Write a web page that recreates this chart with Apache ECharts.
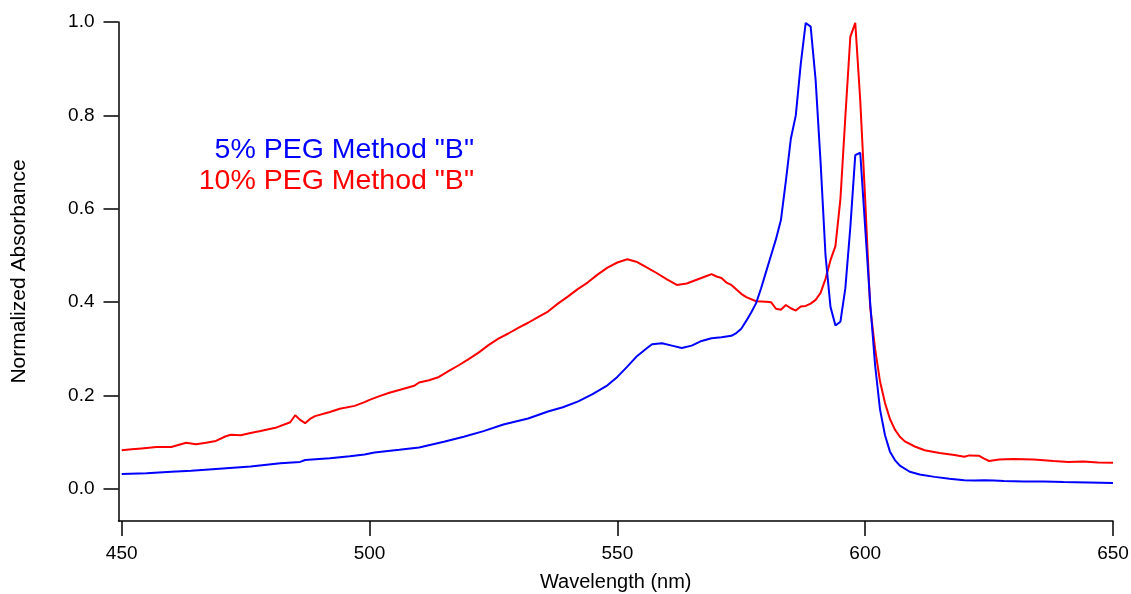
<!DOCTYPE html>
<html>
<head>
<meta charset="utf-8">
<script src="https://cdn.jsdelivr.net/npm/echarts@6/dist/echarts.min.js"></script>
<style>
html,body{margin:0;padding:0;background:#fff;}
#c{width:1131px;height:594px;}
</style>
</head>
<body>
<div id="c"></div>
<script>
// ---- data ----
const wl5 = [450,455,460,464,469,476,482,486,487,492,496,499,501,506,510,515,519,523,527,532,536,539,542,545,548,550,552,554,556,557,559,561,563,565,567,569,571,573,574,575,576,577,578,579,580,581,582,583,584,585,586,587,588,589,590,591,592,593,594,595,596,597,598,599,600,601,602,603,604,605,606,607,609,611,614,617,620,622,624,626,628,632,636,640,645,650];
const abs5 = [0.032,0.034,0.037,0.039,0.043,0.048,0.055,0.058,0.062,0.066,0.070,0.074,0.078,0.084,0.089,0.101,0.112,0.124,0.138,0.151,0.166,0.175,0.187,0.203,0.222,0.240,0.262,0.285,0.302,0.310,0.312,0.307,0.302,0.307,0.317,0.323,0.325,0.328,0.334,0.343,0.360,0.378,0.398,0.430,0.465,0.500,0.535,0.576,0.660,0.750,0.800,0.910,0.998,0.990,0.876,0.700,0.500,0.390,0.350,0.358,0.430,0.560,0.715,0.720,0.560,0.400,0.265,0.170,0.115,0.080,0.062,0.050,0.037,0.031,0.026,0.022,0.019,0.018,0.019,0.018,0.017,0.016,0.016,0.015,0.014,0.013];

const wl10 = [450,452,454,457,460,463,465,467,469,471,472,474,476,478,481,484,485,486,487,488,489,492,494,497,499,500,502,504,506,509,510,512,514,516,518,520,522,524,526,528,530,532,534,536,538,540,542,544,546,548,550,552,554,556,558,560,562,564,566,568,569,570,571,572,573,575,576,578,580,581,582,583,584,585,586,587,588,589,590,591,592,593,594,595,596,597,598,599,600,601,602,603,604,605,606,607,608,610,612,615,618,620,621,623,624,625,627,630,634,638,641,644,647,650];
const abs10 = [0.083,0.085,0.087,0.090,0.090,0.099,0.096,0.099,0.103,0.113,0.116,0.115,0.120,0.124,0.131,0.143,0.158,0.148,0.141,0.150,0.156,0.165,0.172,0.178,0.186,0.191,0.199,0.206,0.212,0.221,0.228,0.233,0.240,0.253,0.265,0.278,0.292,0.308,0.322,0.333,0.345,0.356,0.368,0.380,0.397,0.412,0.428,0.442,0.459,0.474,0.485,0.492,0.486,0.474,0.462,0.449,0.437,0.440,0.448,0.456,0.460,0.455,0.452,0.442,0.437,0.418,0.411,0.402,0.401,0.400,0.386,0.384,0.394,0.387,0.382,0.391,0.392,0.397,0.405,0.420,0.450,0.490,0.520,0.620,0.797,0.968,0.998,0.833,0.620,0.390,0.300,0.230,0.184,0.150,0.127,0.112,0.102,0.091,0.083,0.077,0.073,0.069,0.072,0.071,0.065,0.060,0.063,0.064,0.063,0.060,0.058,0.059,0.057,0.056];

const xTicks = [450,500,550,600,650];
const yTicks = [0.0,0.2,0.4,0.6,0.8,1.0];
const seriesNames = ['5% PEG Method "B"','10% PEG Method "B"'];

const FONT = '"Liberation Sans", Arial, sans-serif';
const chart = echarts.init(document.getElementById('c'), null, {renderer:'canvas'});
const pairs = (xs, ys) => xs.map((x,i)=>[x, ys[i]]);

chart.setOption({
  animation:false,
  backgroundColor:'#fff',
  grid:{left:118.5, right:18, top:22, bottom:73, containLabel:false, outerBoundsMode:'none'},
  xAxis:{
    type:'value', min:449.35, max:650,
    name:'Wavelength (nm)', nameLocation:'middle', nameGap:51,
    nameTextStyle:{fontFamily:FONT, fontSize:20, color:'#000'},
    axisLine:{show:true, onZero:false, lineStyle:{color:'#000', width:1.5}},
    axisTick:{show:true, length:15, inside:false, customValues:xTicks, lineStyle:{color:'#000', width:1.5}},
    axisLabel:{customValues:xTicks, margin:23, fontFamily:FONT, fontSize:19, color:'#000',
      formatter:v=>String(Math.round(v))},
    splitLine:{show:false}
  },
  yAxis:{
    type:'value', min:-0.0685, max:1.0,
    name:'Normalized Absorbance', nameLocation:'middle', nameGap:89, nameRotate:90,
    nameTextStyle:{fontFamily:FONT, fontSize:21, color:'#000'},
    axisLine:{show:true, onZero:false, lineStyle:{color:'#000', width:1.5}},
    axisTick:{show:true, length:15, inside:false, customValues:yTicks, lineStyle:{color:'#000', width:1.5}},
    axisLabel:{customValues:yTicks, margin:24, fontFamily:FONT, fontSize:19, color:'#000',
      formatter:v=>v.toFixed(1)},
    splitLine:{show:false}
  },
  series:[
    {name:seriesNames[0], type:'line', data:pairs(wl5, abs5), showSymbol:false, symbol:'none',
     lineStyle:{color:'#0000ff', width:2}, itemStyle:{color:'#0000ff'}, z:3},
    {name:seriesNames[1], type:'line', data:pairs(wl10, abs10), showSymbol:false, symbol:'none',
     lineStyle:{color:'#ff0000', width:2}, itemStyle:{color:'#ff0000'}, z:2}
  ],
  graphic:[
    {type:'text', x:474, y:150, style:{text:seriesNames[0], fill:'#0000ff', font:'28.5px '+FONT, align:'right', verticalAlign:'middle'}},
    {type:'text', x:474, y:181, style:{text:seriesNames[1], fill:'#ff0000', font:'28.5px '+FONT, align:'right', verticalAlign:'middle'}}
  ]
});
</script>
</body>
</html>
